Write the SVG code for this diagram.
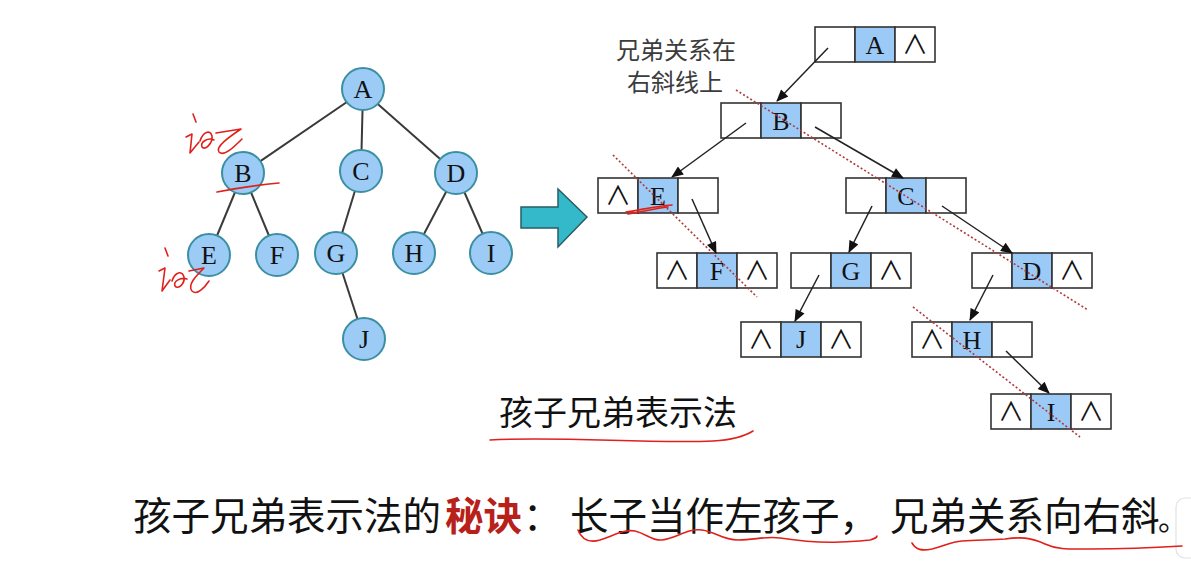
<svg xmlns="http://www.w3.org/2000/svg" width="1191" height="561" viewBox="0 0 1191 561">
<style>
.edge{stroke:#3a3a3a;stroke-width:2;fill:none}
.circ{fill:#9ccbf6;stroke:#3b8fa3;stroke-width:2}
.let{font-family:"Liberation Serif",serif;font-size:26px;fill:#111;text-anchor:middle}
.cell{fill:#fff;stroke:#333;stroke-width:1.6}
.cellb{fill:#9ccaf7;stroke:#333;stroke-width:1.6}
.nul{font-family:"Noto Sans CJK SC","DejaVu Sans",sans-serif;font-size:26px;fill:#111;text-anchor:middle}
.arr{stroke:#222;stroke-width:1.5;fill:none;marker-end:url(#ah)}
.dot{stroke:#b03a3a;stroke-width:1.6;stroke-dasharray:2 2.2;fill:none}
.ink{stroke:#e0201a;stroke-width:1.6;fill:none;stroke-linecap:round;stroke-linejoin:round}
.cjk{font-family:"Noto Sans CJK SC","Noto Sans",sans-serif}
</style>
<defs>
<marker id="ah" viewBox="0 0 12 10" refX="11" refY="5" markerWidth="13" markerHeight="10" markerUnits="userSpaceOnUse" orient="auto">
<path d="M0,0 L12,5 L0,10 Z" fill="#111"/>
</marker>
</defs>
<rect width="1191" height="561" fill="#fff"/>

<g id="ui-corner">
<rect x="1176" y="498" width="30" height="60" rx="9" fill="#fff" stroke="#e2e2e2" stroke-width="1.2"/>
</g>

<!-- left tree connectors -->
<g id="tree-connectors">
<line class="edge" x1="363" y1="91" x2="243" y2="173"/>
<line class="edge" x1="363" y1="91" x2="361" y2="171"/>
<line class="edge" x1="363" y1="91" x2="456" y2="173"/>
<line class="edge" x1="243" y1="173" x2="209" y2="255"/>
<line class="edge" x1="243" y1="173" x2="277" y2="255"/>
<line class="edge" x1="361" y1="171" x2="336" y2="253"/>
<line class="edge" x1="456" y1="173" x2="414" y2="253"/>
<line class="edge" x1="456" y1="173" x2="491" y2="253"/>
<line class="edge" x1="336" y1="253" x2="364" y2="339"/>
</g>
<g id="t-A"><circle class="circ" cx="363" cy="89" r="21"/><text class="let" x="363" y="98">A</text></g>
<g id="t-B"><circle class="circ" cx="243" cy="173" r="21"/><text class="let" x="243" y="182">B</text></g>
<g id="t-C"><circle class="circ" cx="361" cy="171" r="21"/><text class="let" x="361" y="180">C</text></g>
<g id="t-D"><circle class="circ" cx="456" cy="173" r="21"/><text class="let" x="456" y="182">D</text></g>
<g id="t-E"><circle class="circ" cx="209" cy="255" r="21"/><text class="let" x="209" y="264">E</text></g>
<g id="t-F"><circle class="circ" cx="277" cy="255" r="21"/><text class="let" x="277" y="264">F</text></g>
<g id="t-G"><circle class="circ" cx="336" cy="253" r="21"/><text class="let" x="336" y="262">G</text></g>
<g id="t-H"><circle class="circ" cx="414" cy="253" r="21"/><text class="let" x="414" y="262">H</text></g>
<g id="t-I"><circle class="circ" cx="491" cy="253" r="21"/><text class="let" x="491" y="262">I</text></g>
<g id="t-J"><circle class="circ" cx="364" cy="339" r="21"/><text class="let" x="364" y="348">J</text></g>

<!-- big arrow -->
<g id="big-arrow">
<path d="M521,207 L558,207 L558,189 L587,217 L558,247 L558,228 L521,228 Z" fill="#33b9c9" stroke="#2a5c66" stroke-width="1.5"/>
</g>

<!-- right: child-sibling nodes -->
<g id="n-A"><rect class="cell" x="815" y="27" width="40" height="35"/><rect class="cellb" x="855" y="27" width="40" height="35"/><rect class="cell" x="895" y="27" width="40" height="35"/><text class="let" x="875" y="54">A</text><text class="nul" x="915" y="54">∧</text></g>
<g id="n-B"><rect class="cell" x="721" y="103" width="40" height="35"/><rect class="cellb" x="761" y="103" width="40" height="35"/><rect class="cell" x="801" y="103" width="40" height="35"/><text class="let" x="781" y="130">B</text></g>
<g id="n-E"><rect class="cell" x="598" y="178" width="40" height="35"/><rect class="cellb" x="638" y="178" width="40" height="35"/><rect class="cell" x="678" y="178" width="40" height="35"/><text class="nul" x="618" y="205">∧</text><text class="let" x="658" y="205">E</text></g>
<g id="n-C"><rect class="cell" x="846" y="178" width="40" height="35"/><rect class="cellb" x="886" y="178" width="40" height="35"/><rect class="cell" x="926" y="178" width="40" height="35"/><text class="let" x="906" y="205">C</text></g>
<g id="n-F"><rect class="cell" x="657" y="253" width="40" height="35"/><rect class="cellb" x="697" y="253" width="40" height="35"/><rect class="cell" x="737" y="253" width="40" height="35"/><text class="nul" x="677" y="280">∧</text><text class="let" x="717" y="280">F</text><text class="nul" x="757" y="280">∧</text></g>
<g id="n-G"><rect class="cell" x="791" y="253" width="40" height="35"/><rect class="cellb" x="831" y="253" width="40" height="35"/><rect class="cell" x="871" y="253" width="40" height="35"/><text class="let" x="851" y="280">G</text><text class="nul" x="891" y="280">∧</text></g>
<g id="n-D"><rect class="cell" x="972" y="253" width="40" height="35"/><rect class="cellb" x="1012" y="253" width="40" height="35"/><rect class="cell" x="1052" y="253" width="40" height="35"/><text class="let" x="1032" y="280">D</text><text class="nul" x="1072" y="280">∧</text></g>
<g id="n-J"><rect class="cell" x="741" y="322" width="40" height="35"/><rect class="cellb" x="781" y="322" width="40" height="35"/><rect class="cell" x="821" y="322" width="40" height="35"/><text class="nul" x="761" y="349">∧</text><text class="let" x="801" y="348">J</text><text class="nul" x="841" y="349">∧</text></g>
<g id="n-H"><rect class="cell" x="912" y="322" width="40" height="35"/><rect class="cellb" x="952" y="322" width="40" height="35"/><rect class="cell" x="992" y="322" width="40" height="35"/><text class="nul" x="932" y="349">∧</text><text class="let" x="972" y="349">H</text></g>
<g id="n-I"><rect class="cell" x="991" y="394" width="40" height="35"/><rect class="cellb" x="1031" y="394" width="40" height="35"/><rect class="cell" x="1071" y="394" width="40" height="35"/><text class="nul" x="1011" y="421">∧</text><text class="let" x="1051" y="421">I</text><text class="nul" x="1091" y="421">∧</text></g>

<g id="pointer-connectors">
<line class="arr" x1="828" y1="48" x2="777" y2="101"/>
<line class="arr" x1="746" y1="123" x2="672" y2="177"/>
<line class="arr" x1="815" y1="127" x2="903" y2="178"/>
<line class="arr" x1="692" y1="199" x2="716" y2="253"/>
<line class="arr" x1="872" y1="206" x2="849" y2="252"/>
<line class="arr" x1="942" y1="206" x2="1012" y2="253"/>
<line class="arr" x1="819" y1="275" x2="795" y2="321"/>
<line class="arr" x1="993" y1="275" x2="970" y2="320"/>
<line class="arr" x1="1006" y1="351" x2="1049" y2="393"/>
</g>

<g id="sibling-diagonals">
<line class="dot" x1="736" y1="90" x2="1088" y2="310"/>
<line class="dot" x1="613" y1="155" x2="757" y2="297"/>
<line class="dot" x1="913" y1="307" x2="1080" y2="437"/>
</g>

<g id="label-sibling">
<text class="cjk" x="616" y="59" font-size="24" fill="#3c3c3c">兄弟关系在</text>
<text class="cjk" x="627" y="91" font-size="24" fill="#3c3c3c">右斜线上</text>
</g>

<g id="title">
<text class="cjk" x="499" y="425" font-size="34" fill="#111">孩子兄弟表示法</text>
</g>

<g id="caption" class="cjk" font-size="38.5" fill="#111">
<text x="133" y="530">孩子兄弟表示法的</text>
<text x="445" y="530" fill="#b8201a" font-weight="bold">秘诀</text>
<text x="523" y="530">：</text>
<text x="570" y="530">长子当作左孩子，</text>
<text x="890" y="530">兄弟关系向右斜</text>
<text x="1158" y="530" font-size="30">。</text>
</g>

<!-- handwritten red ink -->
<g id="ink">
<path class="ink" d="M193,114 L196,122"/>
<path class="ink" d="M186,137 L192,134 L190,153 L199,142"/>
<path class="ink" d="M200,141 C203,132 210,129 212,136 C213,143 205,151 202,147 C200,142 208,137 214,140"/>
<path class="ink" d="M216,133 L241,129 C229,137 215,147 219,152 C224,157 234,147 242,139"/>
<path class="ink" d="M217,192 C238,188 258,185 279,183"/>
<path class="ink" d="M165,248 L168,256"/>
<path class="ink" d="M159,271 L165,268 L162,291 L170,280"/>
<path class="ink" d="M172,281 C175,272 182,270 184,277 C185,284 178,290 175,286 C173,281 181,277 187,279"/>
<path class="ink" d="M189,271 L204,268 C196,276 187,285 192,291 C197,296 205,287 209,281"/>
<path class="ink" d="M626,212 C640,210 656,206 672,205 M628,214 C645,211 658,208 668,207"/>
<path class="ink" d="M490,440 C560,436 650,444 713,441 C730,440 745,436 753,431"/>
<path class="ink" d="M578,530 C582,540 590,543 600,540 C615,535 625,529 635,531 C647,534 652,541 662,540 C677,538 688,528 702,530 C716,532 722,540 738,540 C755,540 765,536 780,538 C800,541 820,543 840,542 C855,541 865,541 870,540 C874,539 877,537 877,536"/>
<path class="ink" d="M912,543 C916,550 922,551 932,549 C945,546 950,542 962,541 C980,540 990,540 1005,539 C1020,537 1030,537 1045,544 C1058,550 1070,549 1090,549 C1120,549 1150,548 1182,546"/>
</g>
</svg>
